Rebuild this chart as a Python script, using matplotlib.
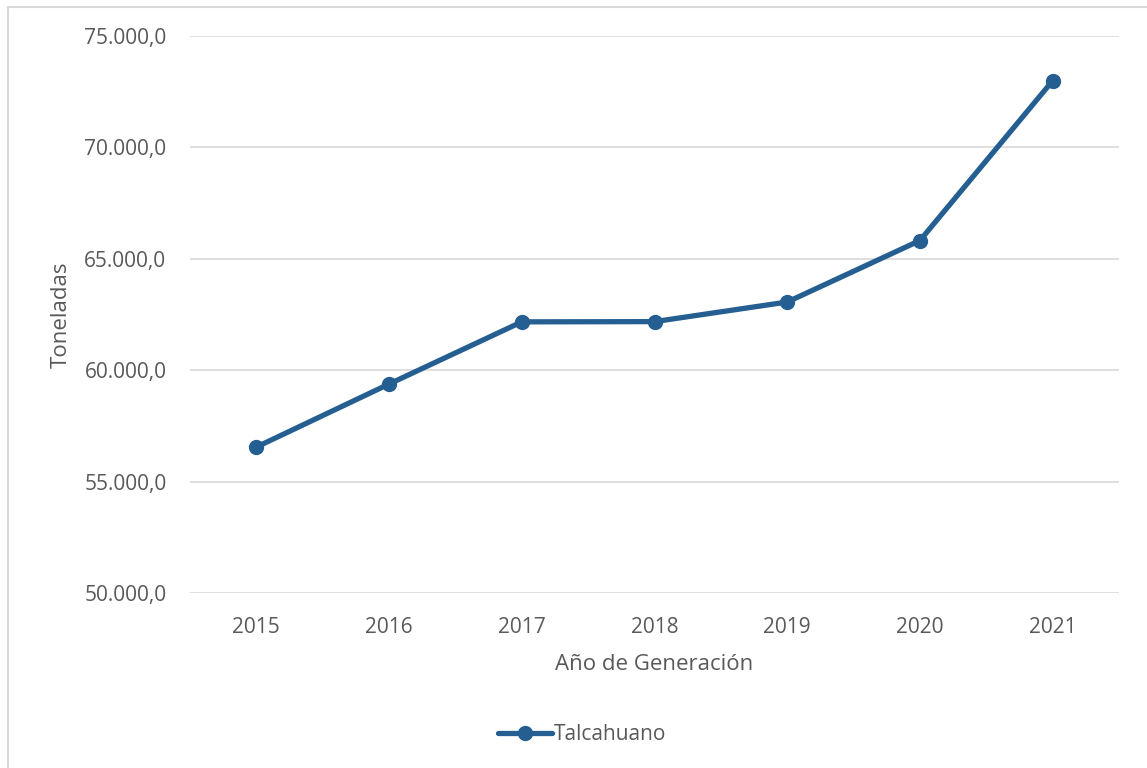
import matplotlib.pyplot as plt
from matplotlib.patches import Rectangle
from matplotlib.ticker import FuncFormatter

years = ["2015", "2016", "2017", "2018", "2019", "2020", "2021"]
toneladas = [56550, 59380, 62170, 62180, 63060, 65820, 72990]

plt.rcParams['font.family'] = ['Open Sans', 'DejaVu Sans']
text_color = "#595959"
line_color = "#255E91"

fig = plt.figure(figsize=(11.47, 7.68), dpi=100)
W, H = 1147, 768

# chart frame (light gray border like the Excel chart area)
fig.patches.append(Rectangle((8 / W, -0.1), 1.2, 1 - 7 / H + 0.1, transform=fig.transFigure,
                             fill=False, edgecolor="#D9D9D9", linewidth=1.5))

ax = fig.add_axes([190 / W, 1 - 593 / H, (1119 - 190) / W, (593 - 36) / H])
x = range(len(years))
ax.plot(x, toneladas, color=line_color, linewidth=3.8, marker="o", markersize=10,
        label="Talcahuano", solid_capstyle="round")

ax.set_xlim(-0.5, len(years) - 0.5)
ax.set_ylim(50000, 75000)
ax.set_yticks(range(50000, 75001, 5000))
ax.yaxis.set_major_formatter(FuncFormatter(lambda v, p: f"{v:,.1f}".replace(",", "X").replace(".", ",").replace("X", ".")))
ax.set_xticks(list(x))
ax.set_xticklabels(years)

ax.grid(axis="y", color="#D9D9D9", linewidth=1.2)
ax.set_axisbelow(True)
for s in ax.spines.values():
    s.set_visible(False)
ax.tick_params(length=0, labelsize=15, colors=text_color)
ax.tick_params(axis="y", pad=17)
ax.tick_params(axis="x", pad=17)

ax.set_xlabel("Año de Generación", fontsize=16, color=text_color, labelpad=12)
ax.set_ylabel("Toneladas", fontsize=16, color=text_color, labelpad=9)

fig.legend(loc="center", bbox_to_anchor=(582 / W, 1 - 735 / H), frameon=False,
           fontsize=15, labelcolor=text_color, handlelength=2.6, handletextpad=0.1)

fig.savefig("out.png", dpi=100)
plt.close(fig)
